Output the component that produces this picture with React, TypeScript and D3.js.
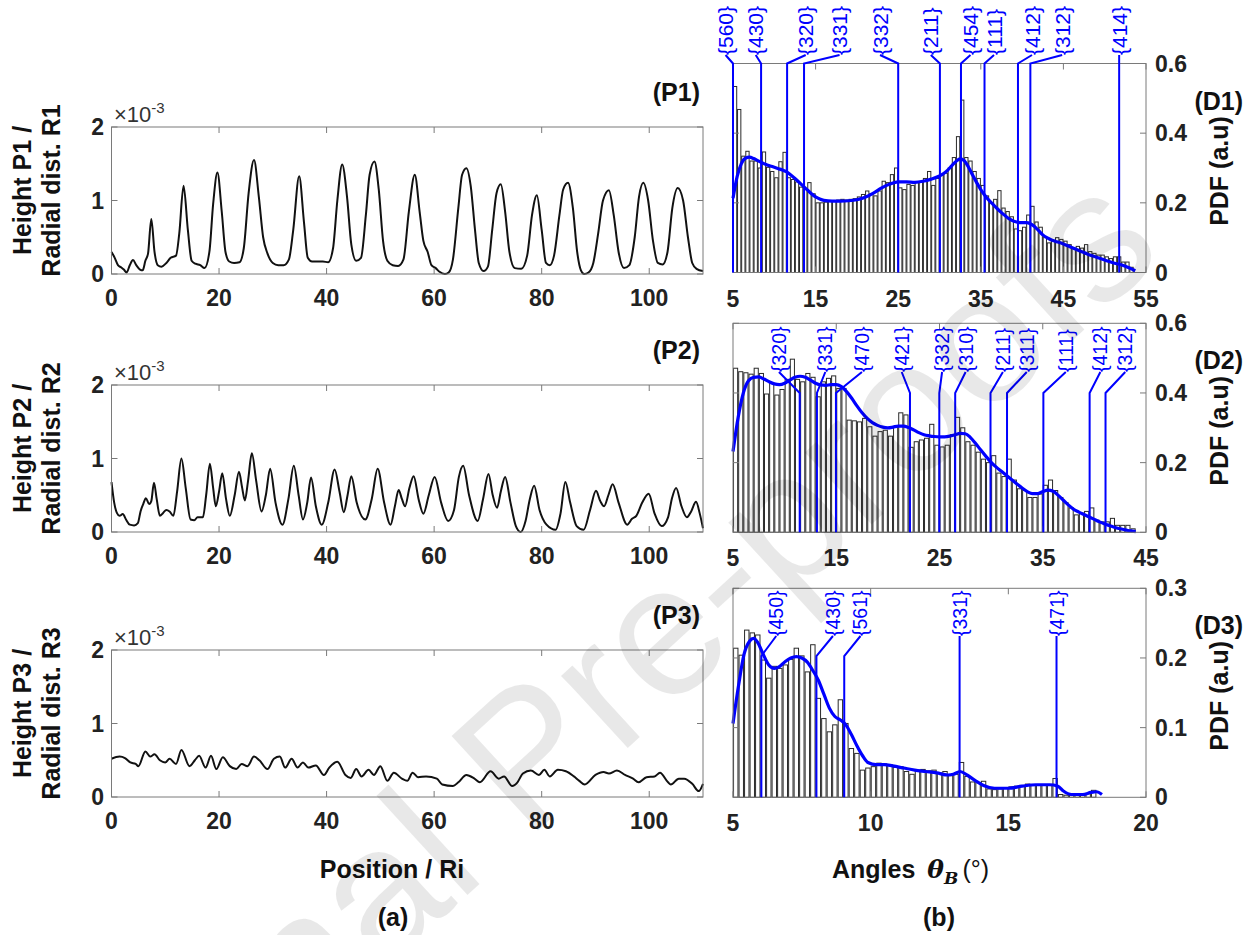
import React from 'react';
import * as d3 from 'd3';

const W = 1255;
const H = 935;
const FONT = '"Liberation Sans", Arial, Helvetica, sans-serif';
const BLUE = '#0000ff';
const FRAME = '#7a7a7a';

// ---------------- (a) height profiles, values in units of 1e-3 ----------------
const profileP1: [number, number][] = [
  [0, 0.3], [0.6, 0.22], [1.2, 0.12], [1.8, 0.09], [2.3, 0.06], [2.8, 0.02], [3.4, 0.12], [4.0, 0.19], [4.6, 0.12],
  [5.3, 0.06], [5.8, 0.05], [6.3, 0.18], [6.8, 0.28], [7.4, 0.75], [8.0, 0.3], [8.6, 0.12], [9.3, 0.1], [10.2, 0.15],
  [11.0, 0.22], [12.0, 0.25], [12.6, 0.55], [13.4, 1.2], [14.2, 0.6], [14.9, 0.18], [15.6, 0.14], [16.5, 0.12],
  [17.3, 0.08], [18.2, 0.3], [18.9, 0.95], [19.7, 1.38], [20.5, 0.85], [21.2, 0.3], [21.9, 0.17], [22.8, 0.15],
  [23.8, 0.16], [24.6, 0.35], [25.5, 1.1], [26.5, 1.55], [27.4, 1.05], [28.2, 0.5], [29.0, 0.28], [30.0, 0.15],
  [31.0, 0.12], [32.0, 0.12], [33.0, 0.2], [33.8, 0.6], [34.9, 1.33], [35.8, 0.7], [36.5, 0.22], [37.3, 0.17],
  [38.3, 0.17], [39.3, 0.17], [40.3, 0.16], [41.2, 0.35], [42.0, 1.0], [42.9, 1.49], [43.8, 1.05], [44.6, 0.4],
  [45.5, 0.18], [46.4, 0.22], [47.3, 0.8], [48.0, 1.35], [48.9, 1.53], [49.7, 1.15], [50.5, 0.45], [51.3, 0.18],
  [52.3, 0.12], [53.3, 0.11], [54.3, 0.2], [55.3, 0.85], [56.4, 1.35], [57.3, 0.85], [58.0, 0.45], [58.8, 0.3],
  [59.5, 0.12], [60.3, 0.08], [61.0, 0.03], [62.0, 0.0], [62.7, 0.02], [63.5, 0.2], [64.5, 0.9], [65.2, 1.35],
  [66.0, 1.44], [66.8, 1.2], [67.6, 0.6], [68.3, 0.15], [69.2, 0.04], [70.0, 0.1], [70.8, 0.6], [71.6, 1.1],
  [72.4, 1.22], [73.2, 0.85], [74.0, 0.3], [75.0, 0.08], [76.2, 0.07], [77.3, 0.25], [78.2, 0.8], [79.1, 1.07],
  [80.0, 0.6], [80.8, 0.15], [81.5, 0.12], [82.3, 0.25], [83.3, 0.8], [84.0, 1.15], [84.9, 1.24], [85.8, 0.9],
  [86.6, 0.3], [87.3, 0.05], [87.9, 0.0], [88.7, 0.02], [89.6, 0.15], [90.5, 0.55], [91.4, 1.0], [92.5, 1.14],
  [93.4, 0.8], [94.3, 0.3], [95.3, 0.08], [96.3, 0.12], [97.3, 0.5], [98.1, 1.05], [98.9, 1.24], [99.8, 1.0],
  [100.7, 0.45], [101.6, 0.15], [102.5, 0.13], [103.4, 0.3], [104.3, 0.9], [105.3, 1.17], [106.3, 1.0],
  [107.2, 0.5], [108.0, 0.15], [108.8, 0.07], [110, 0.04],
];

const profileP2: [number, number][] = [
  [0, 0.68], [0.5, 0.4], [1.0, 0.26], [1.5, 0.22], [2.1, 0.245], [2.7, 0.17], [3.4, 0.1], [4.2, 0.09], [4.9, 0.12],
  [5.4, 0.28], [5.9, 0.38], [6.4, 0.46], [7.0, 0.38], [7.4, 0.42], [7.9, 0.67], [8.4, 0.45], [9.0, 0.22], [9.6, 0.26],
  [10.2, 0.3], [10.8, 0.28], [11.5, 0.22], [12.2, 0.55], [13.0, 1.0], [13.8, 0.6], [14.7, 0.17], [15.4, 0.16],
  [16.0, 0.2], [17.0, 0.2], [17.6, 0.5], [18.3, 0.93], [18.9, 0.6], [19.4, 0.35], [20.0, 0.55], [20.6, 0.8],
  [21.3, 0.45], [22.0, 0.22], [22.9, 0.5], [23.7, 0.82], [24.3, 0.6], [24.8, 0.43], [25.4, 0.7], [26.1, 1.07],
  [26.9, 0.7], [27.9, 0.28], [28.7, 0.5], [29.5, 0.86], [30.5, 0.4], [31.8, 0.1], [32.9, 0.45], [33.9, 0.9],
  [34.8, 0.5], [35.6, 0.17], [36.4, 0.4], [37.1, 0.74], [38.0, 0.35], [39.1, 0.1], [40.3, 0.4], [41.5, 0.85],
  [42.4, 0.55], [43.2, 0.27], [43.9, 0.5], [44.6, 0.76], [45.6, 0.4], [47.2, 0.17], [48.4, 0.45], [49.5, 0.86],
  [50.7, 0.4], [51.9, 0.1], [52.7, 0.35], [53.4, 0.57], [54.0, 0.45], [54.6, 0.35], [55.4, 0.6], [56.2, 0.76],
  [57.1, 0.45], [58.0, 0.25], [59.0, 0.5], [60.1, 0.75], [61.3, 0.4], [62.6, 0.15], [63.7, 0.3], [64.6, 0.75],
  [65.4, 0.9], [66.5, 0.5], [68.1, 0.15], [69.1, 0.45], [70.1, 0.79], [70.9, 0.5], [71.7, 0.33], [72.4, 0.55],
  [73.2, 0.75], [74.2, 0.4], [75.2, 0.08], [76.1, 0.0], [77.0, 0.15], [77.8, 0.45], [78.6, 0.63], [79.6, 0.3],
  [80.9, 0.1], [82.6, 0.03], [83.5, 0.25], [84.4, 0.68], [85.3, 0.4], [86.5, 0.08], [87.8, 0.03], [89.0, 0.3],
  [90.1, 0.56], [90.9, 0.42], [91.6, 0.35], [92.4, 0.5], [93.2, 0.65], [94.3, 0.4], [95.9, 0.1], [96.8, 0.18],
  [97.6, 0.22], [98.7, 0.4], [99.9, 0.52], [101.0, 0.25], [102.3, 0.08], [103.5, 0.2], [104.2, 0.45], [105.0, 0.6],
  [106.0, 0.35], [107.0, 0.2], [107.8, 0.28], [108.7, 0.41], [109.4, 0.25], [110, 0.05],
];

const profileP3: [number, number][] = [
  [0, 0.52], [1.5, 0.55], [2.5, 0.53], [3.5, 0.47], [4.5, 0.45], [5.0, 0.42], [6.3, 0.62], [7.2, 0.55], [8.0, 0.58],
  [9.0, 0.5], [10.0, 0.47], [10.8, 0.52], [12.0, 0.45], [13.0, 0.64], [14.5, 0.42], [15.5, 0.5], [16.3, 0.56],
  [17.5, 0.4], [18.5, 0.56], [19.5, 0.38], [20.7, 0.54], [22.0, 0.42], [23.2, 0.38], [24.2, 0.45], [25.3, 0.42],
  [26.5, 0.55], [27.5, 0.5], [29.0, 0.38], [30.2, 0.52], [31.3, 0.55], [32.3, 0.4], [33.5, 0.52], [34.6, 0.4],
  [35.6, 0.47], [36.6, 0.4], [38.0, 0.43], [39.5, 0.3], [40.5, 0.4], [42.0, 0.48], [43.5, 0.3], [44.5, 0.26],
  [45.5, 0.38], [46.5, 0.28], [47.8, 0.37], [48.8, 0.3], [50.0, 0.42], [51.3, 0.22], [52.5, 0.33], [54.0, 0.25],
  [55.0, 0.22], [56.0, 0.33], [57.0, 0.27], [58.5, 0.28], [60.5, 0.25], [61.5, 0.17], [63.5, 0.15], [64.5, 0.2],
  [66.0, 0.3], [67.5, 0.25], [68.5, 0.2], [70.5, 0.35], [72.0, 0.25], [73.0, 0.28], [74.5, 0.15], [75.5, 0.2],
  [76.5, 0.32], [78.0, 0.36], [79.5, 0.3], [80.5, 0.37], [81.5, 0.28], [83.0, 0.37], [84.5, 0.35], [86.0, 0.28],
  [87.0, 0.22], [88.0, 0.17], [90.0, 0.3], [91.5, 0.34], [92.5, 0.32], [94.0, 0.36], [95.5, 0.3], [97.0, 0.25],
  [98.0, 0.2], [99.5, 0.27], [101.0, 0.28], [102.0, 0.33], [103.5, 0.2], [104.0, 0.17], [105.5, 0.25], [106.5, 0.25],
  [108.0, 0.18], [109.2, 0.08], [110, 0.18],
];

const profileXTicks = [0, 20, 40, 60, 80, 100];
const profileYTicks = [0, 1, 2];

// ---------------- (b) angle distributions ----------------
const pdfD1 = [
  0.534, 0.468, 0.334, 0.348, 0.32, 0.32, 0.3, 0.346, 0.302, 0.29,
  0.272, 0.318, 0.345, 0.272, 0.267, 0.26, 0.245, 0.238, 0.258, 0.226,
  0.2, 0.2, 0.202, 0.205, 0.205, 0.208, 0.21, 0.208, 0.21, 0.212,
  0.217, 0.224, 0.234, 0.226, 0.22, 0.234, 0.262, 0.258, 0.281, 0.3,
  0.243, 0.238, 0.253, 0.25, 0.258, 0.26, 0.27, 0.29, 0.25, 0.27,
  0.28, 0.285, 0.3, 0.33, 0.39, 0.495, 0.33, 0.32, 0.29, 0.27,
  0.25, 0.22, 0.2, 0.21, 0.235, 0.185, 0.175, 0.16, 0.125, 0.12,
  0.13, 0.165, 0.19, 0.145, 0.13, 0.1, 0.085, 0.09, 0.1, 0.095,
  0.09, 0.08, 0.07, 0.075, 0.07, 0.08, 0.06, 0.055, 0.05, 0.05,
  0.045, 0.04, 0.045, 0.045, 0.03, 0.03, 0.015,
];
const kdeD1: [number, number][] = [
  [5.0, 0.213], [5.5, 0.275], [6.0, 0.312], [6.5, 0.328], [7.0, 0.331], [7.5, 0.327], [8.0, 0.321], [8.5, 0.315],
  [9.0, 0.31], [9.5, 0.306], [10.0, 0.302], [10.5, 0.298], [11.0, 0.294], [11.5, 0.289], [12.0, 0.28], [12.5, 0.27],
  [13.0, 0.259], [13.5, 0.248], [14.0, 0.237], [14.5, 0.226], [15.0, 0.217], [15.5, 0.211], [16.0, 0.207],
  [17.0, 0.205], [18.0, 0.205], [19.0, 0.206], [20.0, 0.209], [21.0, 0.216], [22.0, 0.228], [23.0, 0.243],
  [24.0, 0.254], [25.0, 0.26], [26.0, 0.26], [27.0, 0.259], [28.0, 0.262], [29.0, 0.268], [30.0, 0.277],
  [30.5, 0.284], [31.0, 0.294], [31.5, 0.307], [32.0, 0.319], [32.5, 0.326], [33.0, 0.321], [33.5, 0.303],
  [34.0, 0.28], [34.5, 0.258], [35.0, 0.238], [35.5, 0.221], [36.0, 0.207], [36.5, 0.195], [37.0, 0.183],
  [37.5, 0.172], [38.0, 0.162], [38.5, 0.153], [39.0, 0.147], [39.5, 0.144], [40.0, 0.143], [40.5, 0.143],
  [41.0, 0.14], [41.5, 0.132], [42.0, 0.12], [42.5, 0.108], [43.0, 0.1], [43.5, 0.094], [44.0, 0.09],
  [45.0, 0.082], [46.0, 0.072], [47.0, 0.062], [48.0, 0.052], [49.0, 0.044], [50.0, 0.036], [51.0, 0.028],
  [52.0, 0.022], [53.0, 0.013], [53.7, 0.005],
];
const planesD1 = ['{560}', '{430}', '{320}', '{331}', '{332}', '{211}', '{454}', '{111}', '{412}', '{312}', '{414}'];
const planeAnglesD1 = [5.0, 8.4, 11.55, 13.6, 25.0, 30.05, 32.6, 35.45, 39.5, 41.0, 51.75];
const labelAnglesD1 = [4.1, 7.75, 13.8, 17.9, 22.8, 28.95, 33.75, 36.6, 41.2, 44.85, 51.75];

const pdfD2 = [
  0.471, 0.461, 0.458, 0.454, 0.471, 0.456, 0.397, 0.428, 0.394, 0.41,
  0.439, 0.497, 0.439, 0.432, 0.456, 0.445, 0.389, 0.432, 0.442, 0.449,
  0.413, 0.413, 0.322, 0.32, 0.317, 0.327, 0.303, 0.276, 0.289, 0.293,
  0.276, 0.303, 0.343, 0.337, 0.244, 0.26, 0.265, 0.27, 0.31, 0.25,
  0.245, 0.25, 0.28, 0.33, 0.3, 0.26, 0.25, 0.23, 0.21, 0.2,
  0.22, 0.17, 0.16, 0.21, 0.15, 0.125, 0.12, 0.1, 0.1, 0.11,
  0.135, 0.15, 0.12, 0.1, 0.085, 0.07, 0.05, 0.055, 0.06, 0.07,
  0.035, 0.03, 0.03, 0.04, 0.02, 0.02, 0.02, 0.01,
];
const kdeD2: [number, number][] = [
  [5.0, 0.232], [5.5, 0.33], [6.0, 0.4], [6.5, 0.435], [7.0, 0.445], [7.5, 0.446], [8.0, 0.44], [8.5, 0.432],
  [9.0, 0.426], [9.5, 0.424], [10.0, 0.428], [10.5, 0.437], [11.0, 0.445], [11.5, 0.448], [12.0, 0.445],
  [12.5, 0.437], [13.0, 0.428], [13.5, 0.423], [14.0, 0.422], [14.5, 0.424], [15.0, 0.424], [15.5, 0.418],
  [16.0, 0.404], [16.5, 0.385], [17.0, 0.363], [17.5, 0.343], [18.0, 0.327], [18.5, 0.315], [19.0, 0.307],
  [19.5, 0.302], [20.0, 0.3], [20.5, 0.302], [21.0, 0.305], [21.5, 0.305], [22.0, 0.301], [22.5, 0.294],
  [23.0, 0.286], [23.5, 0.28], [24.0, 0.277], [24.5, 0.275], [25.0, 0.274], [25.5, 0.274], [26.0, 0.276],
  [26.5, 0.28], [27.0, 0.284], [27.5, 0.283], [28.0, 0.272], [28.5, 0.255], [29.0, 0.236], [29.5, 0.218],
  [30.0, 0.201], [30.5, 0.187], [31.0, 0.175], [31.5, 0.163], [32.0, 0.151], [32.5, 0.139], [33.0, 0.127],
  [33.5, 0.117], [34.0, 0.111], [34.5, 0.111], [35.0, 0.117], [35.5, 0.121], [36.0, 0.118], [36.5, 0.106],
  [37.0, 0.092], [37.5, 0.078], [38.0, 0.066], [38.5, 0.058], [39.0, 0.051], [39.5, 0.044], [40.0, 0.037],
  [40.5, 0.03], [41.0, 0.024], [41.5, 0.019], [42.0, 0.014], [42.5, 0.01], [43.0, 0.007], [43.5, 0.004],
  [44.0, 0.002],
];
const planesD2 = ['{320}', '{331}', '{470}', '{421}', '{332}', '{310}', '{211}', '{311}', '{111}', '{412}', '{312}'];
const planeAnglesD2 = [11.46, 13.13, 14.97, 22.14, 24.98, 26.52, 29.94, 31.54, 35.06, 39.54, 41.08];
const labelAnglesD2 = [9.45, 13.94, 17.49, 21.34, 25.25, 27.53, 31.14, 33.45, 37.23, 40.58, 42.99];

const pdfD3 = [
  0.214, 0.204, 0.24, 0.236, 0.233, 0.197, 0.171, 0.188, 0.185, 0.19,
  0.198, 0.214, 0.203, 0.18, 0.219, 0.142, 0.113, 0.094, 0.104, 0.14,
  0.106, 0.07, 0.063, 0.039, 0.042, 0.044, 0.049, 0.048, 0.047, 0.043,
  0.044, 0.037, 0.033, 0.039, 0.04, 0.038, 0.039, 0.035, 0.037, 0.031,
  0.033, 0.05, 0.03, 0.022, 0.021, 0.023, 0.012, 0.011, 0.012, 0.013,
  0.015, 0.016, 0.017, 0.019, 0.018, 0.017, 0.018, 0.017, 0.027, 0.004,
  0.003, 0.003, 0.004, 0.004, 0.005, 0.01,
];
const kdeD3: [number, number][] = [
  [5.0, 0.106], [5.2, 0.16], [5.4, 0.205], [5.6, 0.224], [5.75, 0.228], [5.9, 0.222], [6.1, 0.205], [6.3, 0.19],
  [6.5, 0.185], [6.7, 0.188], [6.9, 0.195], [7.1, 0.2], [7.3, 0.202], [7.5, 0.2], [7.7, 0.194], [7.9, 0.182],
  [8.1, 0.168], [8.3, 0.148], [8.5, 0.128], [8.7, 0.116], [8.9, 0.111], [9.1, 0.104], [9.3, 0.09], [9.5, 0.074],
  [9.7, 0.06], [9.9, 0.05], [10.2, 0.047], [10.5, 0.047], [10.8, 0.045], [11.2, 0.042], [11.6, 0.039],
  [12.0, 0.037], [12.4, 0.035], [12.8, 0.032], [13.0, 0.033], [13.25, 0.037], [13.5, 0.032], [13.8, 0.024],
  [14.1, 0.017], [14.5, 0.013], [15.0, 0.013], [15.5, 0.016], [16.0, 0.018], [16.5, 0.018], [16.8, 0.016],
  [17.0, 0.009], [17.3, 0.004], [17.7, 0.004], [18.0, 0.007], [18.2, 0.008], [18.4, 0.004],
];
const planesD3 = ['{450}', '{430}', '{561}', '{331}', '{471}'];
const planeAnglesD3 = [6.03, 8.03, 9.04, 13.23, 16.75];
const labelAnglesD3 = [6.57, 8.63, 9.63, 13.23, 16.75];

const ticksD1 = [5, 15, 25, 35, 45, 55];
const ticksD2 = [5, 15, 25, 35, 45];
const ticksD3 = [5, 10, 15, 20];
const pdfTicksWide = [0, 0.2, 0.4, 0.6];
const pdfTicksNarrow = [0, 0.1, 0.2, 0.3];

// ---------------- layout ----------------
const LEFT_X = [111.5, 703];
const RIGHT_X = [733, 1146];
const P_H = 147;
const D_H = 209;
const TICK = 6;
const TICK_FONT = 23;

type ProfileCfg = { top: number; data: [number, number][]; tag: string; title: string };
const profilePanels: ProfileCfg[] = [
  { top: 127, data: profileP1, tag: '(P1)', title: 'P1' },
  { top: 385, data: profileP2, tag: '(P2)', title: 'P2' },
  { top: 650, data: profileP3, tag: '(P3)', title: 'P3' },
];

type DistCfg = {
  top: number; xMax: number; xTicks: number[]; yMax: number; yTicks: number[];
  pdf: number[]; binWidth: number; kde: [number, number][];
  planes: string[]; planeAngles: number[]; labelAngles: number[];
  labelBottom: number; bendY: number; labelSize: number; tag: string;
};
const distPanels: DistCfg[] = [
  { top: 63.5, xMax: 55, xTicks: ticksD1, yMax: 0.6, yTicks: pdfTicksWide, pdf: pdfD1, binWidth: 0.5, kde: kdeD1,
    planes: planesD1, planeAngles: planeAnglesD1, labelAngles: labelAnglesD1, labelBottom: 55, bendY: 63.5, labelSize: 21, tag: '(D1)' },
  { top: 323.3, xMax: 45, xTicks: ticksD2, yMax: 0.6, yTicks: pdfTicksWide, pdf: pdfD2, binWidth: 0.5, kde: kdeD2,
    planes: planesD2, planeAngles: planeAnglesD2, labelAngles: labelAnglesD2, labelBottom: 372, bendY: 393, labelSize: 19.5, tag: '(D2)' },
  { top: 588.3, xMax: 20, xTicks: ticksD3, yMax: 0.3, yTicks: pdfTicksNarrow, pdf: pdfD3, binWidth: 0.2, kde: kdeD3,
    planes: planesD3, planeAngles: planeAnglesD3, labelAngles: labelAnglesD3, labelBottom: 636, bendY: 656, labelSize: 19.5, tag: '(D3)' },
];

function ProfilePanel({ cfg }: { cfg: ProfileCfg }) {
  const x = d3.scaleLinear().domain([0, 110]).range(LEFT_X);
  const y = d3.scaleLinear().domain([0, 2]).range([cfg.top + P_H, cfg.top]);
  const line = d3.line<[number, number]>().x(d => x(d[0])).y(d => y(d[1])).curve(d3.curveMonotoneX);
  const bottom = cfg.top + P_H;
  const midY = cfg.top + P_H / 2 - 10;
  return (
    <g>
      <path d={line(cfg.data) || ''} fill="none" stroke="#111" strokeWidth={2} strokeLinejoin="round" />
      <rect x={LEFT_X[0]} y={cfg.top} width={LEFT_X[1] - LEFT_X[0]} height={P_H} fill="none" stroke={FRAME} strokeWidth={1} />
      {profileXTicks.map(t => (
        <g key={'x' + t}>
          <line x1={x(t)} x2={x(t)} y1={bottom} y2={bottom - TICK} stroke={FRAME} />
          <line x1={x(t)} x2={x(t)} y1={cfg.top} y2={cfg.top + TICK} stroke={FRAME} />
          <text x={x(t)} y={bottom + 24} textAnchor="middle" dominantBaseline="central" fontFamily={FONT} fontWeight="bold" fontSize={TICK_FONT} fill="#222">{t}</text>
        </g>
      ))}
      {profileYTicks.map(t => (
        <g key={'y' + t}>
          <line x1={LEFT_X[0]} x2={LEFT_X[0] + TICK} y1={y(t)} y2={y(t)} stroke={FRAME} />
          <line x1={LEFT_X[1]} x2={LEFT_X[1] - TICK} y1={y(t)} y2={y(t)} stroke={FRAME} />
          <text x={104} y={y(t)} textAnchor="end" dominantBaseline="central" fontFamily={FONT} fontWeight="bold" fontSize={TICK_FONT} fill="#222">{t}</text>
        </g>
      ))}
      <text x={114} y={cfg.top - 5} fontFamily={FONT} fontSize={22} fill="#333">
        ×10<tspan dy={-9} fontSize={15}>-3</tspan>
      </text>
      <text x={700} y={cfg.top - 35} textAnchor="end" dominantBaseline="central" fontFamily={FONT} fontWeight="bold" fontSize={25} fill="#111">{cfg.tag}</text>
      <g transform={`translate(0, ${midY})`}>
        <text transform="translate(31,0) rotate(-90)" textAnchor="middle" fontFamily={FONT} fontWeight="bold" fontSize={25} fill="#111">{`Height ${cfg.title} /`}</text>
        <text transform="translate(60,0) rotate(-90)" textAnchor="middle" fontFamily={FONT} fontWeight="bold" fontSize={25} fill="#111">{`Radial dist. R${cfg.title.slice(1)}`}</text>
      </g>
    </g>
  );
}

function DistPanel({ cfg }: { cfg: DistCfg }) {
  const x = d3.scaleLinear().domain([5, cfg.xMax]).range(RIGHT_X);
  const y = d3.scaleLinear().domain([0, cfg.yMax]).range([cfg.top + D_H, cfg.top]);
  const bottom = cfg.top + D_H;
  const line = d3.line<[number, number]>().x(d => x(d[0])).y(d => y(d[1])).curve(d3.curveMonotoneX);
  const barW = x(5 + cfg.binWidth * 0.8) - x(5);
  const fmt = (v: number) => (v === 0 ? '0' : v.toFixed(1));
  return (
    <g>
      {cfg.pdf.map((v, i) => {
        const a = 5 + i * cfg.binWidth + cfg.binWidth * 0.1;
        return (
          <rect key={i} x={x(a)} y={y(v)} width={barW} height={bottom - y(v)} fill="none" stroke="#2a2a2a" strokeWidth={1} />
        );
      })}
      <path d={line(cfg.kde) || ''} fill="none" stroke={BLUE} strokeWidth={3.2} strokeLinejoin="round" />
      <rect x={RIGHT_X[0]} y={cfg.top} width={RIGHT_X[1] - RIGHT_X[0]} height={D_H} fill="none" stroke={FRAME} strokeWidth={1} />
      {cfg.xTicks.map(t => (
        <g key={'x' + t}>
          <line x1={x(t)} x2={x(t)} y1={bottom} y2={bottom - TICK} stroke={FRAME} />
          <line x1={x(t)} x2={x(t)} y1={cfg.top} y2={cfg.top + TICK} stroke={FRAME} />
          <text x={x(t)} y={bottom + 26} textAnchor="middle" dominantBaseline="central" fontFamily={FONT} fontWeight="bold" fontSize={TICK_FONT} fill="#222">{t}</text>
        </g>
      ))}
      {cfg.yTicks.map(t => (
        <g key={'y' + t}>
          <line x1={RIGHT_X[0]} x2={RIGHT_X[0] + TICK} y1={y(t)} y2={y(t)} stroke={FRAME} />
          <line x1={RIGHT_X[1]} x2={RIGHT_X[1] - TICK} y1={y(t)} y2={y(t)} stroke={FRAME} />
          <text x={1155} y={y(t)} dominantBaseline="central" fontFamily={FONT} fontWeight="bold" fontSize={TICK_FONT} fill="#222">{fmt(t)}</text>
        </g>
      ))}
      {cfg.planes.map((p, i) => {
        const lx = x(cfg.labelAngles[i]);
        const px = x(cfg.planeAngles[i]);
        return (
          <g key={p + i}>
            <path d={`M${lx},${cfg.labelBottom} L${px},${cfg.bendY} L${px},${bottom}`} fill="none" stroke={BLUE} strokeWidth={2} />
            <text transform={`translate(${lx},${cfg.labelBottom}) rotate(-90)`} dominantBaseline="central" fontFamily={FONT} fontSize={cfg.labelSize} fill={BLUE}>{p}</text>
          </g>
        );
      })}
      <text x={1243} y={cfg.top + 37} textAnchor="end" dominantBaseline="central" fontFamily={FONT} fontWeight="bold" fontSize={25} fill="#111">{cfg.tag}</text>
      <text transform={`translate(1228,${cfg.top + D_H / 2 + 3}) rotate(-90)`} textAnchor="middle" fontFamily={FONT} fontWeight="bold" fontSize={25} fill="#111">PDF (a.u)</text>
    </g>
  );
}

export default function App() {
  return (
    <svg width={W} height={H} viewBox={`0 0 ${W} ${H}`} style={{ position: 'absolute', left: 0, top: 0, background: '#fff' }}>
      <rect width={W} height={H} fill="#fff" />
      {profilePanels.map(p => <ProfilePanel key={p.tag} cfg={p} />)}
      {distPanels.map(p => <DistPanel key={p.tag} cfg={p} />)}
      <text x={392} y={878} textAnchor="middle" fontFamily={FONT} fontWeight="bold" fontSize={25} fill="#111">Position / Ri</text>
      <text x={832} y={878} fontFamily={FONT} fontWeight="bold" fontSize={25} fill="#111">
        Angles
        <tspan dx={12} fontFamily={'"DejaVu Serif", serif'} fontStyle="italic">θ</tspan>
        <tspan dy={6} fontSize={17} fontFamily={'"DejaVu Serif", serif'} fontStyle="italic">B</tspan>
        <tspan dy={-6} dx={4} fontWeight="normal">(°)</tspan>
      </text>
      <text x={393} y={926} textAnchor="middle" fontFamily={FONT} fontWeight="bold" fontSize={25} fill="#111">(a)</text>
      <text x={939} y={926} textAnchor="middle" fontFamily={FONT} fontWeight="bold" fontSize={25} fill="#111">(b)</text>
      <text transform="translate(1167,254) rotate(-42.5)" textAnchor="end" fontFamily={FONT} fontSize={186} fill="#000" fillOpacity={0.09}>Journal Pre-proofs</text>
    </svg>
  );
}
